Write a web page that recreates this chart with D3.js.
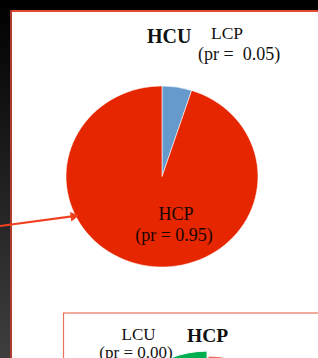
<!DOCTYPE html>
<html>
<head>
<meta charset="utf-8">
<script src="https://cdn.jsdelivr.net/npm/d3@7"></script>
<style>
html,body{margin:0;padding:0;background:#000;}
svg{display:block;}
</style>
</head>
<body>
<script>
// Top pie (HCU)
const topCategories = ["LCP", "HCP"];
const topValues = [0.05, 0.95];
const topLabels = ["(pr =  0.05)", "(pr = 0.95)"];
const topTitle = "HCU";
// Bottom pie (HCP)
const bottomCategories = ["HCP", "LCU"];
const bottomValues = [0.94, 0.06];
const bottomLabels = ["", "(pr = 0.00)"];
const bottomTitle = "HCP";

const W = 318, H = 358;
const svg = d3.select("body").append("svg").attr("width", W).attr("height", H);

const defs = svg.append("defs");
const lg = defs.append("linearGradient").attr("id", "leftGrad").attr("x1", 0).attr("y1", 0).attr("x2", 0).attr("y2", 1);
lg.append("stop").attr("offset", "0%").attr("stop-color", "#000");
lg.append("stop").attr("offset", "100%").attr("stop-color", "#3e3e3e");
const rg = defs.append("linearGradient").attr("id", "redGrad").attr("x1", 0).attr("y1", 0).attr("x2", 1).attr("y2", 0);
rg.append("stop").attr("offset", "0%").attr("stop-color", "#e52a10");
rg.append("stop").attr("offset", "100%").attr("stop-color", "#f7b0a0");

// background
svg.append("rect").attr("x", 0).attr("y", 0).attr("width", W).attr("height", H).attr("fill", "#000");
svg.append("rect").attr("x", 0).attr("y", 0).attr("width", 11).attr("height", H).attr("fill", "url(#leftGrad)");

// main white panel with border
svg.append("rect").attr("x", 11).attr("y", 11).attr("width", W).attr("height", H).attr("fill", "#fff");
svg.append("line").attr("x1", 11).attr("y1", 11).attr("x2", W).attr("y2", 11).attr("stroke", "#de4a30").attr("stroke-width", 2);
svg.append("line").attr("x1", 11).attr("y1", 10).attr("x2", 11).attr("y2", H).attr("stroke", "#b3392a").attr("stroke-width", 2);

// top pie
const colorTop = d3.scaleOrdinal().domain(topCategories).range(["#6699cc", "#e52600"]);
const pie = d3.pie().sort(null).value(d => d.v);
const topData = pie(topCategories.map((c, i) => ({c, v: topValues[i]})));
const rTop = 96;
const arcTop = d3.arc().innerRadius(0).outerRadius(rTop);
const gTop = svg.append("g").attr("transform", "translate(162,176.5) scale(1,0.943)");
gTop.selectAll("path").data(topData).join("path")
  .attr("d", arcTop)
  .attr("fill", d => colorTop(d.data.c))
  .attr("stroke", "#fff").attr("stroke-width", 0.6);

// top title & labels
svg.append("text").attr("x", 147).attr("y", 43.3)
  .attr("font-family", "Liberation Serif").attr("font-weight", "bold").attr("font-size", 20)
  .attr("fill", "#111").text(topTitle);
svg.append("text").attr("x", 211).attr("y", 39)
  .attr("font-family", "Liberation Serif").attr("font-size", 17.5).attr("fill", "#111").text(topCategories[0]);
svg.append("text").attr("x", 198).attr("y", 60).attr("xml:space", "preserve").style("white-space", "pre")
  .attr("font-family", "Liberation Serif").attr("font-size", 18).attr("fill", "#111").text(topLabels[0]);
svg.append("text").attr("x", 176).attr("y", 220).attr("text-anchor", "middle")
  .attr("font-family", "Liberation Serif").attr("font-size", 18).attr("fill", "#1a0500").text(topCategories[1]);
svg.append("text").attr("x", 174).attr("y", 241).attr("text-anchor", "middle")
  .attr("font-family", "Liberation Serif").attr("font-size", 18).attr("fill", "#1a0500").text(topLabels[1]);

// arrow
svg.append("line").attr("x1", 0).attr("y1", 226).attr("x2", 72).attr("y2", 216.4)
  .attr("stroke", "#f0401f").attr("stroke-width", 2.2);
svg.append("path").attr("d", "M79,215.5 L70,212 L71.3,221.5 Z").attr("fill", "#f0401f");

// bottom panel
svg.append("rect").attr("x", 63.5).attr("y", 313).attr("width", 300).attr("height", 100)
  .attr("fill", "#fff").attr("stroke", "#e8735a").attr("stroke-width", 1.2);

// bottom pie (only top visible)
const colorBottom = d3.scaleOrdinal().domain(bottomCategories).range(["url(#redGrad)", "#00b050"]);
const bottomData = pie(bottomCategories.map((c, i) => ({c, v: bottomValues[i]})));
const rBot = 100;
const arcBot = d3.arc().innerRadius(0).outerRadius(rBot);
const gBot = svg.append("g").attr("transform", "translate(208,456)");
gBot.selectAll("path").data(bottomData).join("path")
  .attr("d", arcBot)
  .attr("transform", d => {
    if (d.data.c !== "LCU") return null;
    const a = (d.startAngle + d.endAngle) / 2;
    return `translate(${Math.sin(a) * 5},${-Math.cos(a) * 5})`;
  })
  .attr("fill", d => colorBottom(d.data.c))
  .attr("stroke", "#fff").attr("stroke-width", 1);

svg.append("text").attr("x", 138.5).attr("y", 340).attr("text-anchor", "middle")
  .attr("font-family", "Liberation Serif").attr("font-size", 17).attr("fill", "#111").text(bottomCategories[1]);
svg.append("text").attr("x", 136).attr("y", 357.5).attr("text-anchor", "middle")
  .attr("font-family", "Liberation Serif").attr("font-size", 17).attr("fill", "#111").text(bottomLabels[1]);
svg.append("text").attr("x", 187).attr("y", 341.7)
  .attr("font-family", "Liberation Serif").attr("font-weight", "bold").attr("font-size", 19.5)
  .attr("fill", "#111").text(bottomTitle);
</script>
</body>
</html>
